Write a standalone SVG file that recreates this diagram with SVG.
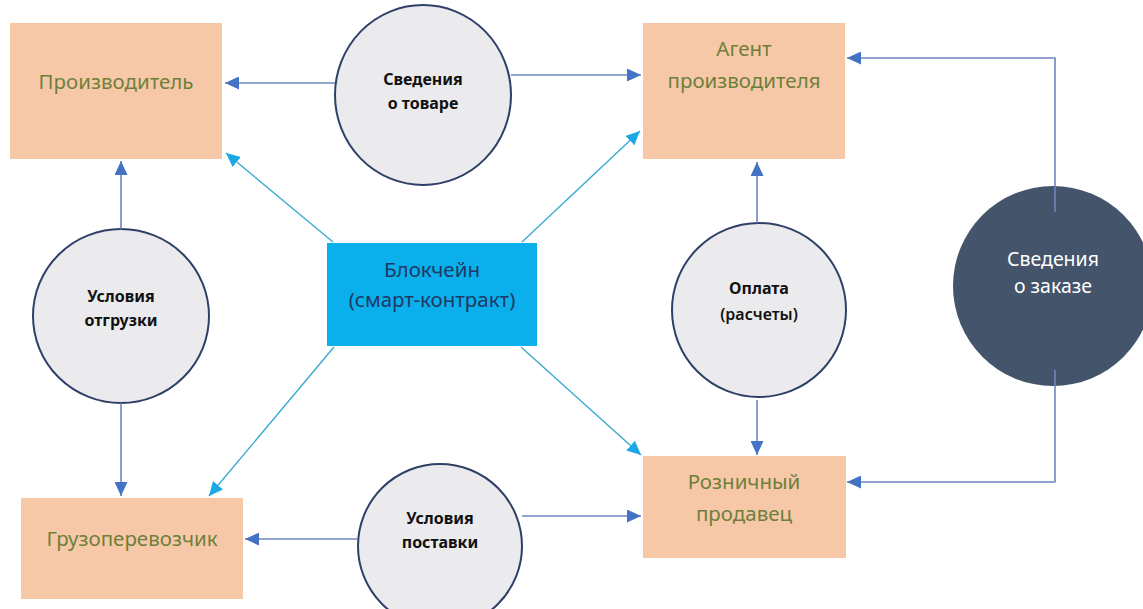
<svg xmlns="http://www.w3.org/2000/svg" width="1143" height="609" viewBox="0 0 1143 609">
<style>
.box{fill:#f7c8a8}
.bt{font-family:"Noto Sans","Liberation Sans",sans-serif;font-size:20.5px;fill:#6e7f3a;text-anchor:middle}
.circ{fill:#ebebee;stroke:#2f4068;stroke-width:2}
.ct{font-family:"Noto Sans","Liberation Sans",sans-serif;font-size:16px;font-weight:bold;fill:#111;text-anchor:middle}
.ln{fill:none;stroke:#6f86bf;stroke-width:1.6;marker-end:url(#ah)}
.bl{fill:none;stroke:#3aa9d3;stroke-width:1.4;marker-end:url(#bh)}
</style>
<defs>
<marker id="ah" viewBox="0 0 14 13" refX="14" refY="6.5" markerWidth="14" markerHeight="13" markerUnits="userSpaceOnUse" orient="auto">
<path d="M0,0 L14,6.5 L0,13 Z" fill="#4472c4"/>
</marker>
<marker id="bh" viewBox="0 0 14 13" refX="14" refY="6.5" markerWidth="14" markerHeight="13" markerUnits="userSpaceOnUse" orient="auto">
<path d="M0,0 L14,6.5 L0,13 Z" fill="#1aa8e4"/>
</marker>
</defs>
<rect width="1143" height="609" fill="#ffffff"/>

<g id="node-proizvoditel">
<rect class="box" x="10" y="23" width="212" height="136"/>
<text class="bt" x="116" y="89">Производитель</text>
</g>
<g id="node-agent">
<rect class="box" x="643" y="23" width="202" height="136"/>
<text class="bt" x="744" y="56">Агент</text>
<text class="bt" x="744" y="88">производителя</text>
</g>
<g id="node-gruz">
<rect class="box" x="21" y="498" width="222" height="101"/>
<text class="bt" x="132" y="546">Грузоперевозчик</text>
</g>
<g id="node-roznica">
<rect class="box" x="643" y="456" width="203" height="102"/>
<text class="bt" x="744" y="489">Розничный</text>
<text class="bt" x="744" y="521">продавец</text>
</g>
<g id="node-blockchain">
<rect x="327" y="243" width="210" height="103" fill="#0aafec"/>
<text class="bt" x="432" y="277" style="fill:#1f3864">Блокчейн</text>
<text class="bt" x="432" y="307" style="fill:#1f3864">(смарт-контракт)</text>
</g>
<g id="node-svedeniya-tovar">
<ellipse class="circ" cx="423" cy="95" rx="88" ry="90"/>
<text class="ct" x="423" y="85">Сведения</text>
<text class="ct" x="423" y="109">о товаре</text>
</g>
<g id="node-usloviya-otgruzki">
<ellipse class="circ" cx="121" cy="316" rx="88" ry="87"/>
<text class="ct" x="121" y="302">Условия</text>
<text class="ct" x="121" y="326">отгрузки</text>
</g>
<g id="node-oplata">
<ellipse class="circ" cx="759" cy="310" rx="87" ry="87"/>
<text class="ct" x="759" y="294">Оплата</text>
<text class="ct" x="759" y="320" style="font-weight:600">(расчеты)</text>
</g>
<g id="node-usloviya-postavki">
<ellipse class="circ" cx="440" cy="546" rx="82" ry="82"/>
<text class="ct" x="440" y="524">Условия</text>
<text class="ct" x="440" y="548">поставки</text>
</g>
<g id="node-svedeniya-zakaz">
<circle cx="1053" cy="286" r="100" fill="#44546a"/>
<text class="bt" x="1053" y="266" style="fill:#ffffff;font-size:19.5px">Сведения</text>
<text class="bt" x="1053" y="293" style="fill:#ffffff;font-size:19.5px">о заказе</text>
</g>

<g id="connectors">
<line class="ln" x1="335" y1="83" x2="225" y2="83"/>
<line class="ln" x1="511" y1="75" x2="641" y2="75"/>
<line class="ln" x1="121" y1="229" x2="121" y2="161"/>
<line class="ln" x1="121" y1="403" x2="121" y2="496"/>
<line class="ln" x1="358" y1="539" x2="245" y2="539"/>
<line class="ln" x1="522" y1="516" x2="641" y2="516"/>
<line class="ln" x1="757" y1="223" x2="757" y2="162"/>
<line class="ln" x1="757" y1="400" x2="757" y2="455"/>
<polyline class="ln" points="1055,212 1055,58 847,58"/>
<polyline class="ln" points="1055,370 1055,482 847,482"/>
<line class="bl" x1="333" y1="242" x2="226" y2="153"/>
<line class="bl" x1="522" y1="242" x2="640" y2="131"/>
<line class="bl" x1="334" y1="347" x2="209" y2="496"/>
<line class="bl" x1="521" y1="347" x2="641" y2="455"/>
</g>
</svg>
